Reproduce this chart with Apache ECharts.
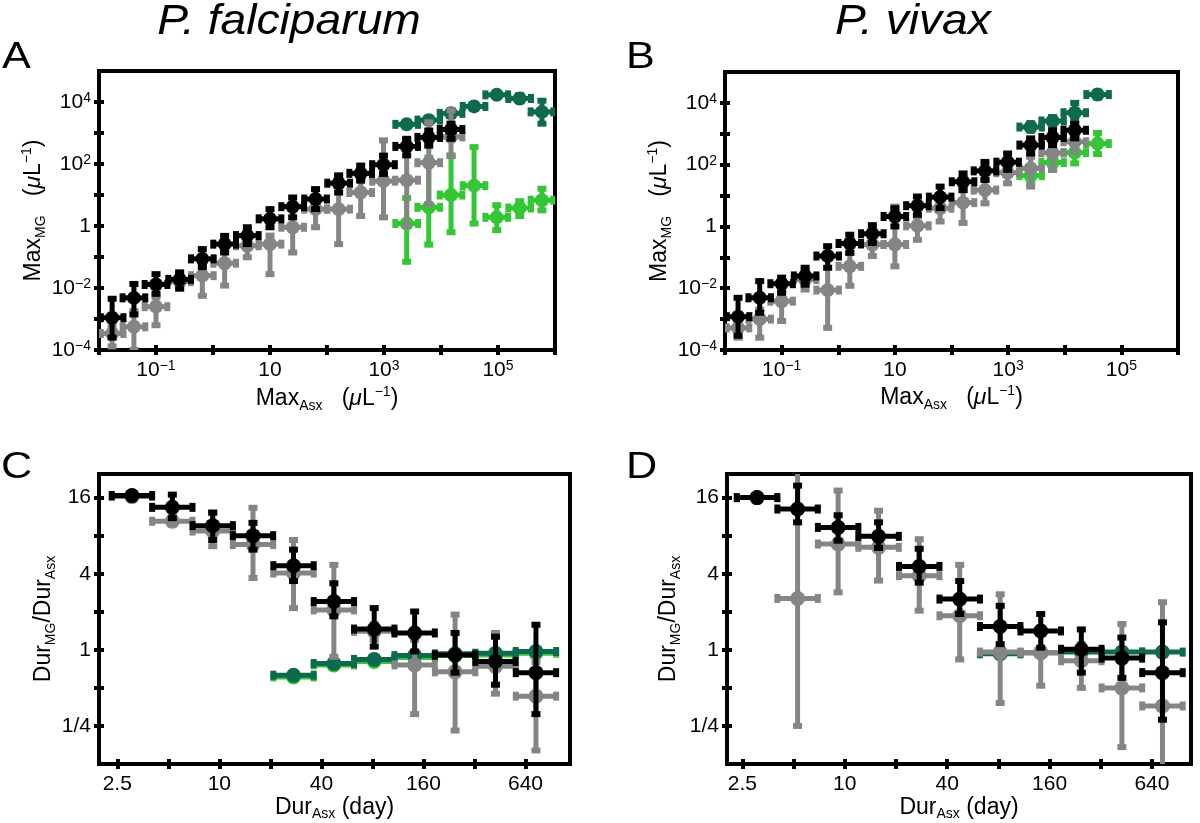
<!DOCTYPE html>
<html><head><meta charset="utf-8">
<script src="https://cdn.jsdelivr.net/npm/echarts@6/dist/echarts.min.js"></script>
<style>html,body{margin:0;padding:0;background:#fff}#c{width:1200px;height:823px}</style>
</head><body><div id="c"></div>
<script>
// ================= DATA =================
// Max-density bins (per µL), adjacent bins differ by a factor 2.5
const maxBins = [0.017, 0.041, 0.1, 0.26, 0.65, 1.6, 4, 10, 25, 63, 160, 390, 980, 2500, 6100, 15000, 38000, 95000, 240000, 590000];
const maxBinRatio = 2.5;
// Duration bins (days), adjacent bins differ by ~1.73
const durBins = [3.05, 5.28, 9.14, 15.8, 27.4, 47.4, 82, 142, 246, 426, 738];
const durBinRatio = 1.73;

// ---- Panel A: P. falciparum, Max_MG vs Max_Asx ----
const pfMaxBlack   = [1.1e-3, 4.8e-3, 1.3e-2, 1.9e-2, 8.7e-2, 0.26, 0.49, 1.7, 4.2, 7.4, 24, 50, 95, 370, 720, 1300];
const pfMaxBlackLo = [2.5e-4, 1.4e-3, 6.5e-3, 9.5e-3, 4.7e-2, 0.14, 0.26, 0.91, 1.9, 3.5, 12, 29, 48, 190, 390, 650];
const pfMaxBlackHi = [4.5e-3, 1.35e-2, 2.8e-2, 3.2e-2, 0.18, 0.48, 0.91, 3.5, 8.3, 15.5, 43, 89, 186, 650, 1200, 2000];
const pfMaxGray    = [3.4e-4, 5.6e-4, 2.5e-3, 1.6e-2, 2.5e-2, 6.3e-2, 0.23, 0.26, 0.91, 3.5, 3.5, 12, 28, 30, 110, 750];
const pfMaxGrayLo  = [1.3e-4, 1.0e-4, 6.3e-4, 1.0e-2, 5.6e-3, 1.2e-2, 9.8e-2, 2.8e-2, 0.14, 0.91, 0.26, 2.1, 1.9, 1.0, 5.0, 180];
const pfMaxGrayHi  = [6.3e-4, 1.8e-3, 5.0e-3, 2.8e-2, 5.2e-2, 0.16, 0.43, 0.49, 4.0, 7.4, 37, 37, 580, 580, 2200, 5400];
const pfMaxDarkStart = 13;
const pfMaxDark    = [1900, 2600, 4300, 7200, 17000, 13000, 4800];
const pfMaxDarkLo  = [1600, 2200, 3500, 6000, 14500, 10500, 2000];
const pfMaxDarkHi  = [2300, 3100, 5300, 8700, 20000, 16500, 11000];
const pfMaxLightStart = 13;
const pfMaxLight   = [1.2, 4.0, 10, 20, 1.9, 3.8, 6.8];
const pfMaxLightLo = [0.07, 0.25, 0.63, 1.2, 0.74, 2.1, 3.2];
const pfMaxLightHi = [8, 160, 190, 350, 4.7, 6.3, 16];

// ---- Panel B: P. vivax, Max_MG vs Max_Asx ----
const pvMaxBlack   = [1.2e-3, 4.9e-3, 1.4e-2, 2.5e-2, 0.11, 0.28, 0.58, 2.1, 4.7, 8.9, 28, 63, 120, 430, 760, 1300];
const pvMaxBlackLo = [2.9e-4, 1.6e-3, 7.1e-3, 1.3e-2, 4.6e-2, 0.14, 0.29, 1.0, 2.4, 3.9, 15, 32, 68, 230, 430, 710];
const pvMaxBlackHi = [4.9e-3, 1.7e-2, 2.2e-2, 4.6e-2, 0.23, 0.54, 1.1, 3.9, 9.3, 19.5, 52, 123, 230, 710, 1300, 2100];
const pvMaxGray    = [5.2e-4, 1.0e-3, 3.8e-3, 1.9e-2, 8.7e-3, 5.1e-2, 0.26, 0.26, 1.05, 3.9, 5.9, 15, 55, 76, 240, 550];
const pvMaxGrayLo  = [2.5e-4, 2.5e-4, 8.7e-4, 9.1e-3, 5.2e-4, 1.2e-2, 0.11, 5.1e-2, 0.37, 1.45, 1.3, 5.6, 25, 19.5, 68, 260];
const pvMaxGrayHi  = [1.0e-3, 2.0e-3, 9.1e-3, 3.2e-2, 0.11, 0.14, 0.54, 4.4, 2.1, 8.1, 15, 32, 110, 180, 550, 1000];
const pvMaxDarkStart = 13;
const pvMaxDark    = [1650, 2600, 4800, 18600];
const pvMaxDarkLo  = [1260, 2000, 2600, 15000];
const pvMaxDarkHi  = [2200, 3500, 10000, 23000];
const pvMaxLightStart = 13;
const pvMaxLight   = [44, 117, 245, 480];
const pvMaxLightLo = [25, 68, 110, 220];
const pvMaxLightHi = [76, 200, 700, 1070];

// ---- Panel C: P. falciparum, Dur_MG/Dur_Asx vs Dur_Asx ----
const pfDurBlack   = [16.6, 13.4, 9.6, 8.0, 4.63, 2.41, 1.46, 1.36, 0.91, 0.81, 0.66];
const pfDurBlackLo = [16.1, 11.0, 7.4, 6.2, 3.5, 1.84, 1.06, 0.97, 0.66, 0.53, 0.31];
const pfDurBlackHi = [17.1, 16.9, 12.2, 10.1, 6.2, 3.36, 2.14, 2.01, 1.36, 1.27, 1.58];
const pfDurGray    = [16.3, 10.4, 8.7, 6.8, 4.05, 2.07, 1.4, 0.76, 0.67, 0.74, 0.43];
const pfDurGrayLo  = [16.0, 9.8, 6.6, 3.7, 2.14, 0.88, 1.2, 0.31, 0.23, 0.45, 0.16];
const pfDurGrayHi  = [16.6, 12.1, 12.1, 13.3, 7.4, 4.7, 1.6, 1.2, 1.9, 1.36, 0.8];
const pfDurDarkStart = 4;
const pfDurDark    = [0.63, 0.78, 0.84, 0.90, 0.93, 0.94, 0.97];
const pfDurDarkLo  = [0.61, 0.76, 0.82, 0.88, 0.91, 0.92, 0.95];
const pfDurDarkHi  = [0.65, 0.80, 0.86, 0.92, 0.95, 0.96, 0.99];
const pfDurLightStart = 4;
const pfDurLight   = [0.61, 0.76, 0.81, 0.87, 0.90, 0.91, 0.94];
const pfDurLightLo = [0.59, 0.74, 0.79, 0.85, 0.88, 0.89, 0.92];
const pfDurLightHi = [0.63, 0.78, 0.83, 0.89, 0.92, 0.93, 0.96];

// ---- Panel D: P. vivax, Dur_MG/Dur_Asx vs Dur_Asx ----
const pvDurBlack   = [16.0, 13.0, 9.3, 7.9, 4.57, 2.52, 1.53, 1.41, 1.01, 0.86, 0.66];
const pvDurBlackLo = [15.6, 10.2, 7.3, 6.4, 3.4, 1.92, 1.11, 1.04, 0.66, 0.6, 0.28];
const pvDurBlackHi = [16.4, 19.9, 11.6, 10.2, 6.3, 3.5, 2.23, 1.92, 1.45, 1.25, 1.65];
const pvDurGray    = [16.0, 2.55, 6.87, 6.47, 3.86, 1.86, 0.96, 0.95, 0.82, 0.5, 0.36];
const pvDurGrayLo  = [15.6, 0.25, 2.85, 3.53, 2.04, 0.84, 0.38, 0.52, 0.5, 0.17, 0.11];
const pvDurGrayHi  = [16.4, 30, 18.2, 12.6, 7.5, 4.7, 2.75, 1.5, 1.11, 1.6, 2.38];
const pvDurDarkStart = 6;
const pvDurDark    = [0.93, 0.95, 0.96, 0.96, 0.96];
const pvDurDarkLo  = [0.90, 0.92, 0.93, 0.93, 0.93];
const pvDurDarkHi  = [0.96, 0.98, 0.99, 0.99, 0.99];

// ---- Axes: ranges, ticks, tick labels ----
const maxXRange = [0.01, 1e6];
const maxYRange = [1e-4, 1e5];
const maxXTicks = [1e-2, 1e-1, 1, 10, 100, 1e3, 1e4, 1e5, 1e6];
const maxYTicks = [1e-4, 1e-3, 1e-2, 1e-1, 1, 10, 100, 1e3, 1e4];
const maxXLabelVals = [0.1, 10, 1000, 1e5];
const maxXLabelText = ['10{s|−1}', '10', '10{s|3}', '10{s|5}'];
const maxYLabelVals = [1e-4, 1e-2, 1, 100, 1e4];
const maxYLabelText = ['10{s|−4}', '10{s|−2}', '1', '10{s|2}', '10{s|4}'];
const durXRangeC = [1.95, 1172];
const durXRangeD = [2.03, 1086];
const durYRange = [0.125, 24.6];
const durXTicks = [2.5, 5, 10, 20, 40, 80, 160, 320, 640];
const durYTicks = [0.25, 0.5, 1, 2, 4, 8, 16];
const durXLabelVals = [2.5, 10, 40, 160, 640];
const durXLabelText = ['2.5', '10', '40', '160', '640'];
const durYLabelVals = [0.25, 1, 4, 16];
const durYLabelText = ['1/4', '1', '4', '16'];

const titles = ['P. falciparum', 'P. vivax'];
const panelLetters = ['A', 'B', 'C', 'D'];

// ================= CHART =================
const FONT = '"Liberation Sans", Arial, Helvetica, sans-serif';
const COL = { black: '#000000', gray: '#858585', dark: '#0e6a4e', light: '#34c634' };
const L10 = Math.log10, L2 = Math.log2;

function ebData(bins, ratio, start, ys, lo, hi, f) {
  const h = Math.sqrt(ratio);
  return ys.map((y, i) => {
    const x = bins[start + i];
    return [f(x), f(y), f(x / h), f(x * h), f(lo[i]), f(hi[i])];
  });
}
function makeRender(color, r, lw, cap) {
  return function (params, api) {
    const c = api.coord([api.value(0), api.value(1)]);
    const xl = api.coord([api.value(2), api.value(1)])[0];
    const xh = api.coord([api.value(3), api.value(1)])[0];
    const yl = api.coord([api.value(0), api.value(4)])[1];
    const yh = api.coord([api.value(0), api.value(5)])[1];
    const st = { stroke: color, lineWidth: lw, fill: null };
    const cst = { stroke: color, lineWidth: lw + 1, fill: null };
    const ch = [
      { type: 'line', shape: { x1: xl, y1: c[1], x2: xh, y2: c[1] }, style: st },
      { type: 'line', shape: { x1: c[0], y1: yl, x2: c[0], y2: yh }, style: st },
      { type: 'line', shape: { x1: xl, y1: c[1] - cap, x2: xl, y2: c[1] + cap }, style: cst },
      { type: 'line', shape: { x1: xh, y1: c[1] - cap, x2: xh, y2: c[1] + cap }, style: cst },
      { type: 'line', shape: { x1: c[0] - cap, y1: yl, x2: c[0] + cap, y2: yl }, style: cst },
      { type: 'line', shape: { x1: c[0] - cap, y1: yh, x2: c[0] + cap, y2: yh }, style: cst },
      { type: 'circle', shape: { cx: c[0], cy: c[1], r: r }, style: { fill: color } }
    ];
    return { type: 'group', children: ch };
  };
}
function ebSeries(gi, data, color, r) {
  return { type: 'custom', coordinateSystem: 'cartesian2d', xAxisIndex: gi * 2, yAxisIndex: gi * 2,
    clip: true, silent: true, data: data, renderItem: makeRender(color, r, 5, 4.5) };
}

const tickRich = { s: { fontFamily: FONT, fontSize: 14, color: '#000', verticalAlign: 'top', lineHeight: 12 } };
const nameRich = {
  b: { fontFamily: FONT, fontSize: 23, color: '#000', lineHeight: 28 },
  mu: { fontFamily: FONT, fontSize: 23, color: '#000', lineHeight: 28, fontStyle: 'italic' },
  sub: { fontFamily: FONT, fontSize: 14, color: '#000', lineHeight: 14, verticalAlign: 'bottom' },
  sup: { fontFamily: FONT, fontSize: 14, color: '#000', lineHeight: 14, verticalAlign: 'top' }
};

function axisPair(dim, gi, range, f, ticks, labelVals, labelText, name, nameGap, margin) {
  const tv = ticks.map(f), lv = labelVals.map(f);
  const base = { gridIndex: gi, type: 'value', min: f(range[0]), max: f(range[1]),
    position: dim === 'x' ? 'bottom' : 'left', splitLine: { show: false },
    axisLine: { show: false, onZero: false } };
  const main = Object.assign({}, base, {
    axisTick: { show: true, length: 5, lineStyle: { color: '#000', width: 4 }, customValues: tv },
    axisLabel: { show: true, customValues: lv, fontFamily: FONT, fontSize: 21, color: '#000', lineHeight: 22,
      margin: margin, rich: tickRich,
      formatter: function (v) { const i = lv.findIndex(t => Math.abs(t - v) < 1e-6); return i >= 0 ? labelText[i] : ''; } },
    name: name, nameLocation: 'middle', nameGap: nameGap,
    nameTextStyle: { fontFamily: FONT, fontSize: 23, color: '#000', rich: nameRich }
  });
  const inner = Object.assign({}, base, {
    axisTick: { show: true, inside: true, length: 5, lineStyle: { color: '#000', width: 4 }, customValues: tv },
    axisLabel: { show: false }
  });
  return [main, inner];
}

const grids = [
  { left: 99, top: 71, width: 456, height: 279 },
  { left: 725, top: 72, width: 453, height: 278 },
  { left: 99, top: 474, width: 471, height: 290 },
  { left: 727, top: 474, width: 464, height: 290 }
].map(g => Object.assign(g, { show: true, borderColor: '#000', borderWidth: 4, backgroundColor: 'transparent' }));

const maxXName = '{b|Max}{sub|Asx}{b|   (}{mu|μ}{b|L}{sup|−1}{b|)}';
const maxYName = '{b|Max}{sub|MG}{b|   (}{mu|μ}{b|L}{sup|−1}{b|)}';
const durXName = '{b|Dur}{sub|Asx}{b| (day)}';
const durYName = '{b|Dur}{sub|MG}{b|/Dur}{sub|Asx}';

const xAxes = [].concat(
  axisPair('x', 0, maxXRange, L10, maxXTicks, maxXLabelVals, maxXLabelText, maxXName, 35, 9),
  axisPair('x', 1, maxXRange, L10, maxXTicks, maxXLabelVals, maxXLabelText, maxXName, 34, 9),
  axisPair('x', 2, durXRangeC, L2, durXTicks, durXLabelVals, durXLabelText, durXName, 26, 9),
  axisPair('x', 3, durXRangeD, L2, durXTicks, durXLabelVals, durXLabelText, durXName, 25, 9)
);
const yAxes = [].concat(
  axisPair('y', 0, maxYRange, L10, maxYTicks, maxYLabelVals, maxYLabelText, maxYName, 50, 8),
  axisPair('y', 1, maxYRange, L10, maxYTicks, maxYLabelVals, maxYLabelText, maxYName, 51, 8),
  axisPair('y', 2, durYRange, L2, durYTicks, durYLabelVals, durYLabelText, durYName, 40, 8),
  axisPair('y', 3, durYRange, L2, durYTicks, durYLabelVals, durYLabelText, durYName, 44, 8)
);

const series = [
  // A
  ebSeries(0, ebData(maxBins, maxBinRatio, pfMaxLightStart, pfMaxLight, pfMaxLightLo, pfMaxLightHi, L10), COL.light, 7),
  ebSeries(0, ebData(maxBins, maxBinRatio, pfMaxDarkStart, pfMaxDark, pfMaxDarkLo, pfMaxDarkHi, L10), COL.dark, 7),
  ebSeries(0, ebData(maxBins, maxBinRatio, 0, pfMaxGray, pfMaxGrayLo, pfMaxGrayHi, L10), COL.gray, 7),
  ebSeries(0, ebData(maxBins, maxBinRatio, 0, pfMaxBlack, pfMaxBlackLo, pfMaxBlackHi, L10), COL.black, 7),
  // B
  ebSeries(1, ebData(maxBins, maxBinRatio, pvMaxLightStart, pvMaxLight, pvMaxLightLo, pvMaxLightHi, L10), COL.light, 7),
  ebSeries(1, ebData(maxBins, maxBinRatio, pvMaxDarkStart, pvMaxDark, pvMaxDarkLo, pvMaxDarkHi, L10), COL.dark, 7),
  ebSeries(1, ebData(maxBins, maxBinRatio, 0, pvMaxGray, pvMaxGrayLo, pvMaxGrayHi, L10), COL.gray, 7),
  ebSeries(1, ebData(maxBins, maxBinRatio, 0, pvMaxBlack, pvMaxBlackLo, pvMaxBlackHi, L10), COL.black, 7),
  // C
  ebSeries(2, ebData(durBins, durBinRatio, pfDurLightStart, pfDurLight, pfDurLightLo, pfDurLightHi, L2), COL.light, 7.5),
  ebSeries(2, ebData(durBins, durBinRatio, pfDurDarkStart, pfDurDark, pfDurDarkLo, pfDurDarkHi, L2), COL.dark, 7.5),
  ebSeries(2, ebData(durBins, durBinRatio, 0, pfDurGray, pfDurGrayLo, pfDurGrayHi, L2), COL.gray, 7.5),
  ebSeries(2, ebData(durBins, durBinRatio, 0, pfDurBlack, pfDurBlackLo, pfDurBlackHi, L2), COL.black, 7.5),
  // D
  ebSeries(3, ebData(durBins, durBinRatio, pvDurDarkStart, pvDurDark, pvDurDarkLo, pvDurDarkHi, L2), COL.dark, 7.5),
  ebSeries(3, ebData(durBins, durBinRatio, 0, pvDurGray, pvDurGrayLo, pvDurGrayHi, L2), COL.gray, 7.5),
  ebSeries(3, ebData(durBins, durBinRatio, 0, pvDurBlack, pvDurBlackLo, pvDurBlackHi, L2), COL.black, 7.5)
];

function label(text, x, y, font, sx, align) {
  return { type: 'text', x: x, y: y, scaleX: sx, z: 100,
    style: { text: text, x: 0, y: 0, font: font, fill: '#000', textAlign: align, textVerticalAlign: 'middle' } };
}
const graphic = [
  label(titles[0], 289, 22, 'italic 42px "Liberation Sans"', 1.1, 'center'),
  label(titles[1], 913, 22, 'italic 42px "Liberation Sans"', 1.1, 'center'),
  label(panelLetters[0], 2, 58, '36px "Liberation Sans"', 1.2, 'left'),
  label(panelLetters[1], 626, 58, '36px "Liberation Sans"', 1.2, 'left'),
  label(panelLetters[2], 1, 468, '36px "Liberation Sans"', 1.2, 'left'),
  label(panelLetters[3], 626, 468, '36px "Liberation Sans"', 1.2, 'left')
];

const chart = echarts.init(document.getElementById('c'), null, { renderer: 'canvas' });
chart.setOption({
  animation: false,
  backgroundColor: '#ffffff',
  grid: grids,
  xAxis: xAxes,
  yAxis: yAxes,
  series: series,
  graphic: graphic
});
</script>
</body></html>
